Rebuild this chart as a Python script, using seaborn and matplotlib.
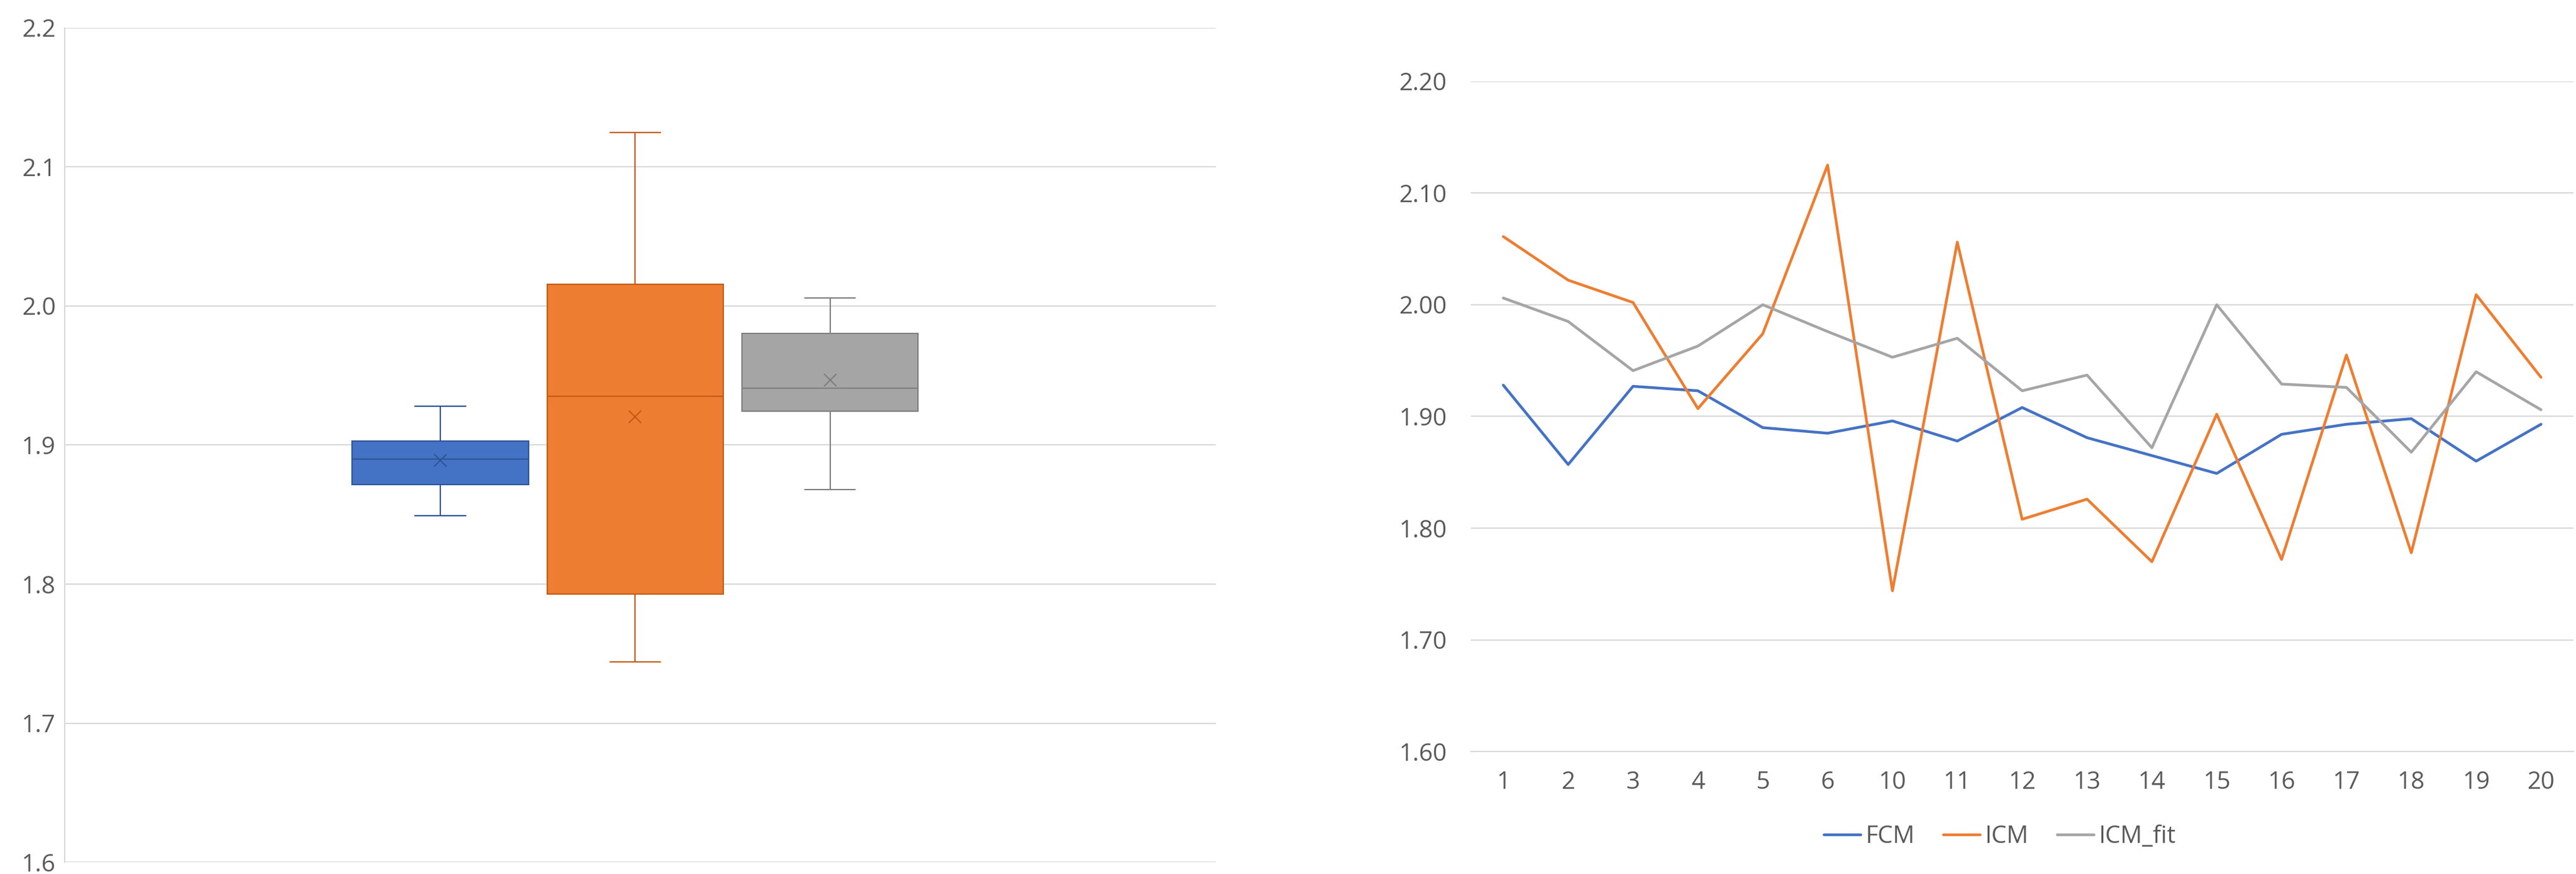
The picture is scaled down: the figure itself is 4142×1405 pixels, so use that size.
import matplotlib
matplotlib.use("Agg")
import matplotlib.pyplot as plt
import seaborn as sns
import pandas as pd
import numpy as np

runs = ["1","2","3","4","5","6","10","11","12","13","14","15","16","17","18","19","20"]
fcm = [1.928,1.857,1.927,1.923,1.890,1.885,1.896,1.878,1.908,1.881,1.865,1.849,1.884,1.893,1.898,1.860,1.893]
icm = [2.061,2.022,2.002,1.907,1.974,2.125,1.744,2.056,1.808,1.826,1.770,1.902,1.772,1.955,1.778,2.009,1.935]
icm_fit = [2.006,1.985,1.941,1.963,2.000,1.976,1.953,1.970,1.923,1.937,1.872,2.000,1.929,1.926,1.868,1.940,1.906]
models = ["FCM","ICM","ICM_fit"]
colors = ["#4472C4","#ED7D31","#A5A5A5"]
edges = ["#2F5597","#C55A11","#7F7F7F"]

sns.set_style("white")
plt.rcParams['font.family'] = ['Open Sans','DejaVu Sans']
tc = "#595959"
grid = "#D9D9D9"

fig = plt.figure(figsize=(41.42,14.05), dpi=100)
ax1 = fig.add_axes([0.025,0.0135,0.447,0.9545])
# Excel-style (exclusive) quartiles computed from the series
for i,(m,c,e,vals) in enumerate(zip(models,colors,edges,[fcm,icm,icm_fit])):
    v = np.array(vals)
    q1, med, q3 = np.percentile(v, [25,50,75], method="weibull")
    st = dict(med=med, q1=q1, q3=q3, whislo=v.min(), whishi=v.max(), mean=v.mean(), fliers=[], label=m)
    ax1.bxp([st], positions=[i], widths=0.905, patch_artist=True, showmeans=True,
            capwidths=0.26,
            boxprops=dict(facecolor=c, edgecolor=e, lw=1.5),
            medianprops=dict(color=e, lw=1.5),
            whiskerprops=dict(color=e, lw=1.5), capprops=dict(color=e, lw=1.5),
            meanprops=dict(marker="x", markeredgecolor=e, markersize=14, markeredgewidth=1.5))
ax1.set_xlim(-1.93,3.98)
ax1.set_ylim(1.6,2.2)
ax1.set_yticks([1.6,1.7,1.8,1.9,2.0,2.1,2.2])
ax1.set_yticklabels(["1.6","1.7","1.8","1.9","2.0","2.1","2.2"])
ax1.set_xticks([])
ax1.grid(axis="y", color=grid, lw=1.5, zorder=0)
ax1.set_axisbelow(True)
for s in ["top","right","bottom"]:
    ax1.spines[s].set_visible(False)
ax1.spines["left"].set_color(grid); ax1.spines["left"].set_linewidth(1.5)
ax1.tick_params(axis="y", labelsize=28, colors=tc, length=0, pad=10)

ax2 = fig.add_axes([0.571,0.140,0.428,0.767])
for m,c,vals in zip(models,colors,[fcm,icm,icm_fit]):
    sns.lineplot(x=runs, y=vals, ax=ax2, color=c, lw=3.2, label=m, sort=False)
ax2.set_ylim(1.6,2.2)
ax2.set_xlim(-0.5,len(runs)-0.5)
ax2.set_yticks(np.arange(1.6,2.21,0.1))
ax2.set_yticklabels([f"{v:.2f}" for v in np.arange(1.6,2.21,0.1)])
ax2.set_xticks(range(len(runs)))
ax2.set_xticks(np.arange(-0.5,len(runs),1), minor=True)
ax2.tick_params(axis="x", which="major", length=0, labelsize=28, colors=tc, pad=22)
ax2.tick_params(axis="x", which="minor", length=14, color=grid, width=1.5, direction="out")
ax2.tick_params(axis="y", labelsize=28, colors=tc, length=0, pad=28)
ax2.grid(axis="y", color=grid, lw=1.5)
ax2.set_axisbelow(True)
for s in ["top","right","left"]:
    ax2.spines[s].set_visible(False)
ax2.spines["bottom"].set_color(grid); ax2.spines["bottom"].set_linewidth(1.5)
ax2.set_xlabel(""); ax2.set_ylabel("")
ax2.legend(loc="center", bbox_to_anchor=(0.48,-0.127), ncol=3, frameon=False,
           fontsize=28, labelcolor=tc, handlelength=1.5, handletextpad=0.2, columnspacing=1.2)
fig.savefig("out.png", dpi=100)
